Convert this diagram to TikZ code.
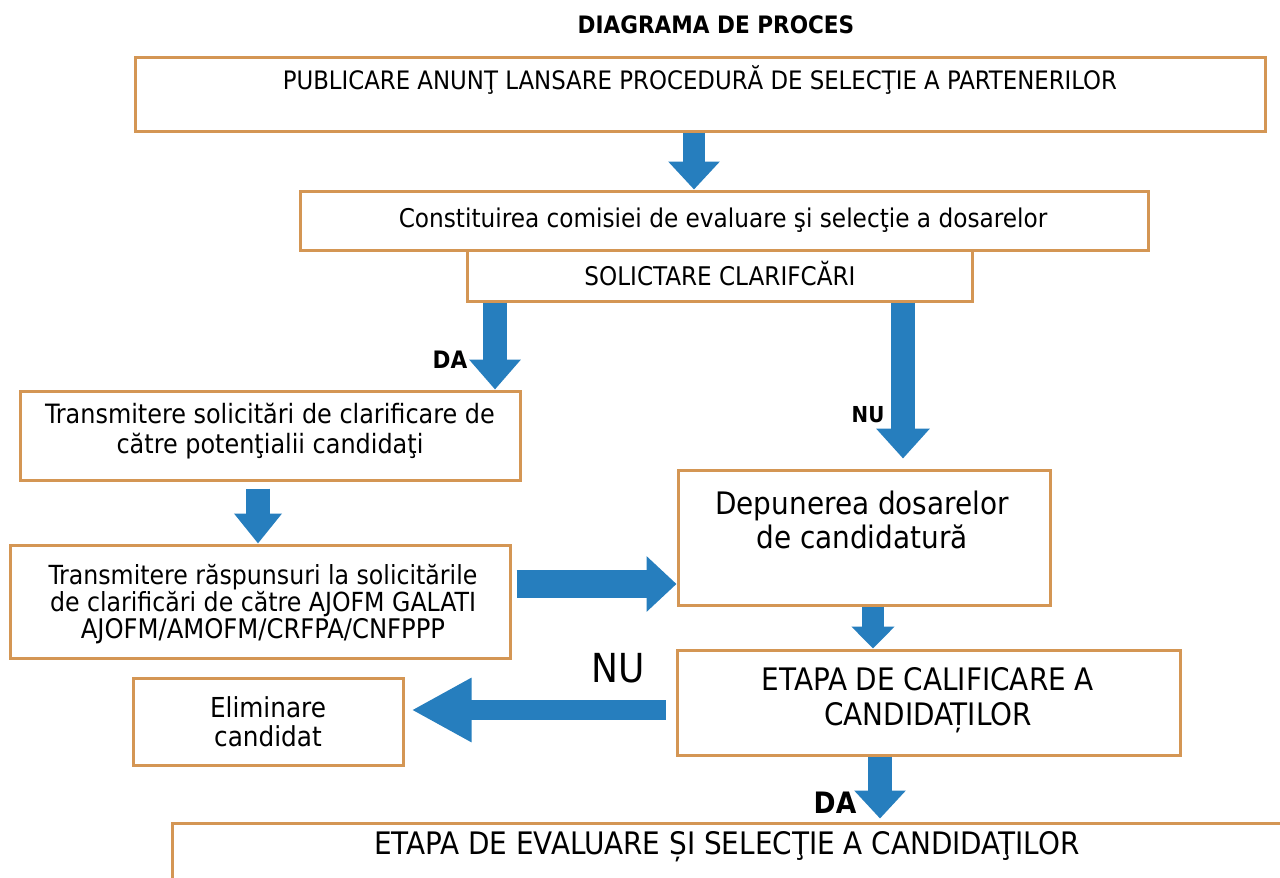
\documentclass[tikz,border=0pt]{standalone}
\usepackage{fontspec}
\setmainfont{DejaVu Sans Condensed}
\usetikzlibrary{arrows.meta}
\definecolor{boxline}{RGB}{212,150,84}
\definecolor{arrowblue}{RGB}{38,126,190}
\newcommand{\fs}[1]{\fontsize{#1}{#1}\selectfont}
\tikzset{
  box/.style={draw=boxline, line width=3pt, fill=white, rectangle, inner sep=0pt},
  txt/.style={align=center, inner sep=0pt, text=black},
  barrow/.style={draw=arrowblue, line width=#1},
}
\begin{document}
\begin{tikzpicture}[x=1pt,y=-1pt]
\useasboundingbox (0,0) rectangle (1280,878);
\clip (0,0) rectangle (1280,878);
\fill[white] (0,0) rectangle (1280,878);

\node[txt,font=\fs{24}\bfseries] (title) at (716,25) {DIAGRAMA DE PROCES};

\node[box,minimum width=1130pt,minimum height=74pt] (b1) at (700,94) {};
\node[txt,font=\fs{25.4}] (t1) at (700,80) {PUBLICARE ANUNŢ LANSARE PROCEDURĂ DE SELECŢIE A PARTENERILOR};

\node[box,minimum width=848pt,minimum height=59pt] (b2) at (724,220.5) {};
\node[txt,font=\fs{25.8}] (t2) at (723,220) {Constituirea comisiei de evaluare şi selecţie a dosarelor};

\node[box,minimum width=505pt,minimum height=51pt] (b3) at (719.5,275.5) {};
\node[txt,font=\fs{25.7}] (t3) at (720,274) {SOLICTARE CLARIFCĂRI};

\node[box,minimum width=500pt,minimum height=89pt] (b4) at (270,435.5) {};
\node[txt,font=\fs{26.6}] (t4) at (270,431) {Transmitere solicitări de clarificare de\\[4pt]către potenţialii candidaţi};

\node[box,minimum width=500pt,minimum height=113pt] (b5) at (260,601.5) {};
\node[txt,font=\fs{26.3}] (t5) at (263,604) {Transmitere răspunsuri la solicitările\\[1pt]de clarificări de către AJOFM GALATI\\[0pt]{\fs{27}AJOFM/AMOFM/CRFPA/CNFPPP}};

\node[box,minimum width=372pt,minimum height=135pt] (b6) at (864,537.5) {};
\node[txt,font=\fs{31}] (t6) at (862,520) {Depunerea dosarelor\\[3pt]de candidatură};

\node[box,minimum width=503pt,minimum height=105pt] (b7) at (928.5,702.5) {};
\node[txt,font=\fs{31}] (t7) at (928,700) {ETAPA DE CALIFICARE A\\[4pt]CANDIDAȚILOR};

\node[box,minimum width=270pt,minimum height=87pt] (b8) at (268,721.5) {};
\node[txt,font=\fs{27.5}] (t8) at (268,722) {Eliminare\\[1.5pt]candidat};

\node[box,minimum width=1118pt,minimum height=80pt] (b9) at (731,863) {};
\node[txt,font=\fs{31}] (t9) at (727,847) {ETAPA DE EVALUARE ȘI SELECŢIE A CANDIDAŢILOR};

% arrows
\draw[barrow=22pt, -{Triangle[width=50pt,length=28pt]}] ([xshift=-6pt]b1.south) -- ([xshift=-30pt]b2.north);
\draw[barrow=24pt, -{Triangle[width=50pt,length=30pt]}] ([xshift=-224.5pt]b3.south) -- ([xshift=225pt]b4.north);
\draw[barrow=24pt, -{Triangle[width=52pt,length=30pt]}, shorten >=10pt] ([xshift=183.5pt]b3.south) -- ([xshift=39pt]b6.north);
\draw[barrow=24pt, -{Triangle[width=46pt,length=30pt]}, shorten <=7pt] ([xshift=-12pt]b4.south) -- ([xshift=-2pt]b5.north);
\draw[barrow=28pt, -{Triangle[width=54pt,length=30pt]}, shorten <=5pt] ([yshift=17.5pt]b5.east) -- ([yshift=-46.5pt]b6.west);
\draw[barrow=22pt, -{Triangle[width=42pt,length=22pt]}] ([xshift=9pt]b6.south) -- ([xshift=-55.5pt]b7.north);
\draw[barrow=20pt, -{Triangle[width=60pt,length=60pt]}, shorten <=10pt, shorten >=7pt] ([yshift=-7.5pt]b7.west) -- ([yshift=11.5pt]b8.east);
\draw[barrow=24pt, -{Triangle[width=50pt,length=28pt]}, shorten >=3pt] ([xshift=-48.5pt]b7.south) -- ([xshift=149pt]b9.north);

% labels
\node[txt,font=\fs{24}\bfseries] (da1) at (450,360) {DA};
\node[txt,font=\fs{22}\bfseries] (nu1) at (868,415) {NU};
\node[txt,font=\fs{40}] (nu2) at (618,668) {NU};
\node[txt,font=\fs{29.5}\bfseries] (da2) at (835,803) {DA};
\end{tikzpicture}
\end{document}
